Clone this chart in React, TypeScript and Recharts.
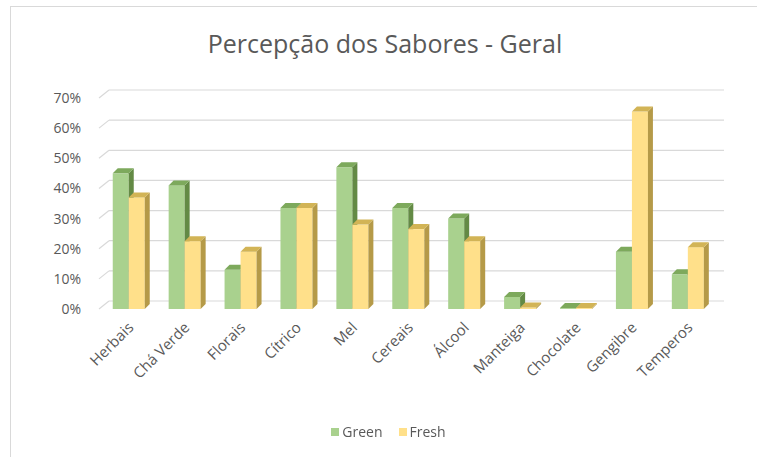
import React from 'react';
import { BarChart, Bar, XAxis, YAxis, CartesianGrid, Legend } from 'recharts';

const categories = ['Herbais', 'Chá Verde', 'Florais', 'Cítrico', 'Mel', 'Cereais', 'Álcool', 'Manteiga', 'Chocolate', 'Gengibre', 'Temperos'];
const green = [0.45, 0.41, 0.13, 0.335, 0.47, 0.335, 0.30, 0.04, 0.003, 0.19, 0.115];
const fresh = [0.37, 0.225, 0.19, 0.335, 0.28, 0.265, 0.225, 0.005, 0.003, 0.655, 0.205];
const yTicks = [0, 0.1, 0.2, 0.3, 0.4, 0.5, 0.6, 0.7];

const data = categories.map((name, i) => ({ name, Green: green[i], Fresh: fresh[i] }));

const FONT = '"Open Sans", Lato, sans-serif';
const DEPTH = 5;

const colors = {
  Green: { front: '#A9D18E', side: '#638A45', top: '#7DA95C' },
  Fresh: { front: '#FFE08A', side: '#B59A48', top: '#D2B456' },
};

const make3D = (key: 'Green' | 'Fresh') => (props: any) => {
  const { x, y, width, height } = props;
  const c = colors[key];
  const d = DEPTH;
  const h = Math.max(height, 0);
  return (
    <g>
      <rect x={x} y={y} width={width} height={h} fill={c.front} />
      <polygon
        points={`${x + width},${y} ${x + width + d},${y - d} ${x + width + d},${y + h - d} ${x + width},${y + h}`}
        fill={c.side}
      />
      <polygon
        points={`${x},${y} ${x + d},${y - d} ${x + width + d},${y - d} ${x + width},${y}`}
        fill={c.top}
      />
    </g>
  );
};

const GridLine = (props: any) => {
  const { x1, x2, y1 } = props;
  const off = 8;
  return (
    <g>
      <line x1={x1 - 2} y1={y1} x2={x1 + off} y2={y1 - off} stroke="#D9D9D9" strokeWidth={1.2} />
      <line x1={x1 + off} y1={y1 - off} x2={x2 + off} y2={y1 - off} stroke="#D9D9D9" strokeWidth={1.2} />
    </g>
  );
};

const LegendContent = () => (
  <div style={{ display: 'flex', justifyContent: 'center', gap: 16, fontFamily: FONT, fontSize: 14, color: '#595959' }}>
    {(['Green', 'Fresh'] as const).map((k) => (
      <span key={k} style={{ display: 'flex', alignItems: 'center' }}>
        <span style={{ width: 8, height: 8, background: colors[k].front, marginRight: 3, display: 'inline-block' }} />
        {k}
      </span>
    ))}
  </div>
);

export default function App() {
  return (
    <div style={{ position: 'fixed', left: 0, top: 0, width: 757, height: 457, background: '#fff' }}>
      <div
        style={{
          position: 'absolute',
          left: 10,
          top: 6,
          width: 760,
          height: 460,
          borderLeft: '1px solid #D9D9D9',
          borderTop: '1px solid #D9D9D9',
        }}
      />
      <div
        style={{
          position: 'absolute',
          top: 26,
          left: 0,
          width: 770,
          textAlign: 'center',
          fontFamily: FONT,
          fontSize: 25,
          color: '#595959',
        }}
      >
        Percepção dos Sabores - Geral
      </div>
      <BarChart
        width={757}
        height={457}
        data={data}
        margin={{ top: 98, right: 41, left: 24, bottom: 10 }}
        barCategoryGap="21%"
        barGap={0}
      >
        <CartesianGrid vertical={false} horizontal={(p: any) => <GridLine key={p.key} {...p} />} />
        <XAxis
          dataKey="name"
          tick={{ angle: -45, textAnchor: 'end', fill: '#595959', fontSize: 15, fontFamily: FONT, dx: -2, dy: 0 }}
          tickLine={false}
          axisLine={false}
          tickMargin={6}
          interval={0}
          height={100}
        />
        <YAxis
          width={77}
          domain={[0, 0.7]}
          ticks={yTicks}
          tickFormatter={(v: number) => `${Math.round(v * 100)}%`}
          tick={{ fill: '#595959', fontSize: 14, fontFamily: FONT }}
          tickLine={false}
          axisLine={false}
          tickMargin={14}
          interval={0}
        />
        <Legend
          verticalAlign="bottom"
          height={38}
          content={<LegendContent />}
          wrapperStyle={{ top: 422, left: 10, width: 757 }}
        />
        <Bar dataKey="Green" shape={make3D('Green')} isAnimationActive={false} />
        <Bar dataKey="Fresh" shape={make3D('Fresh')} isAnimationActive={false} />
      </BarChart>
    </div>
  );
}
